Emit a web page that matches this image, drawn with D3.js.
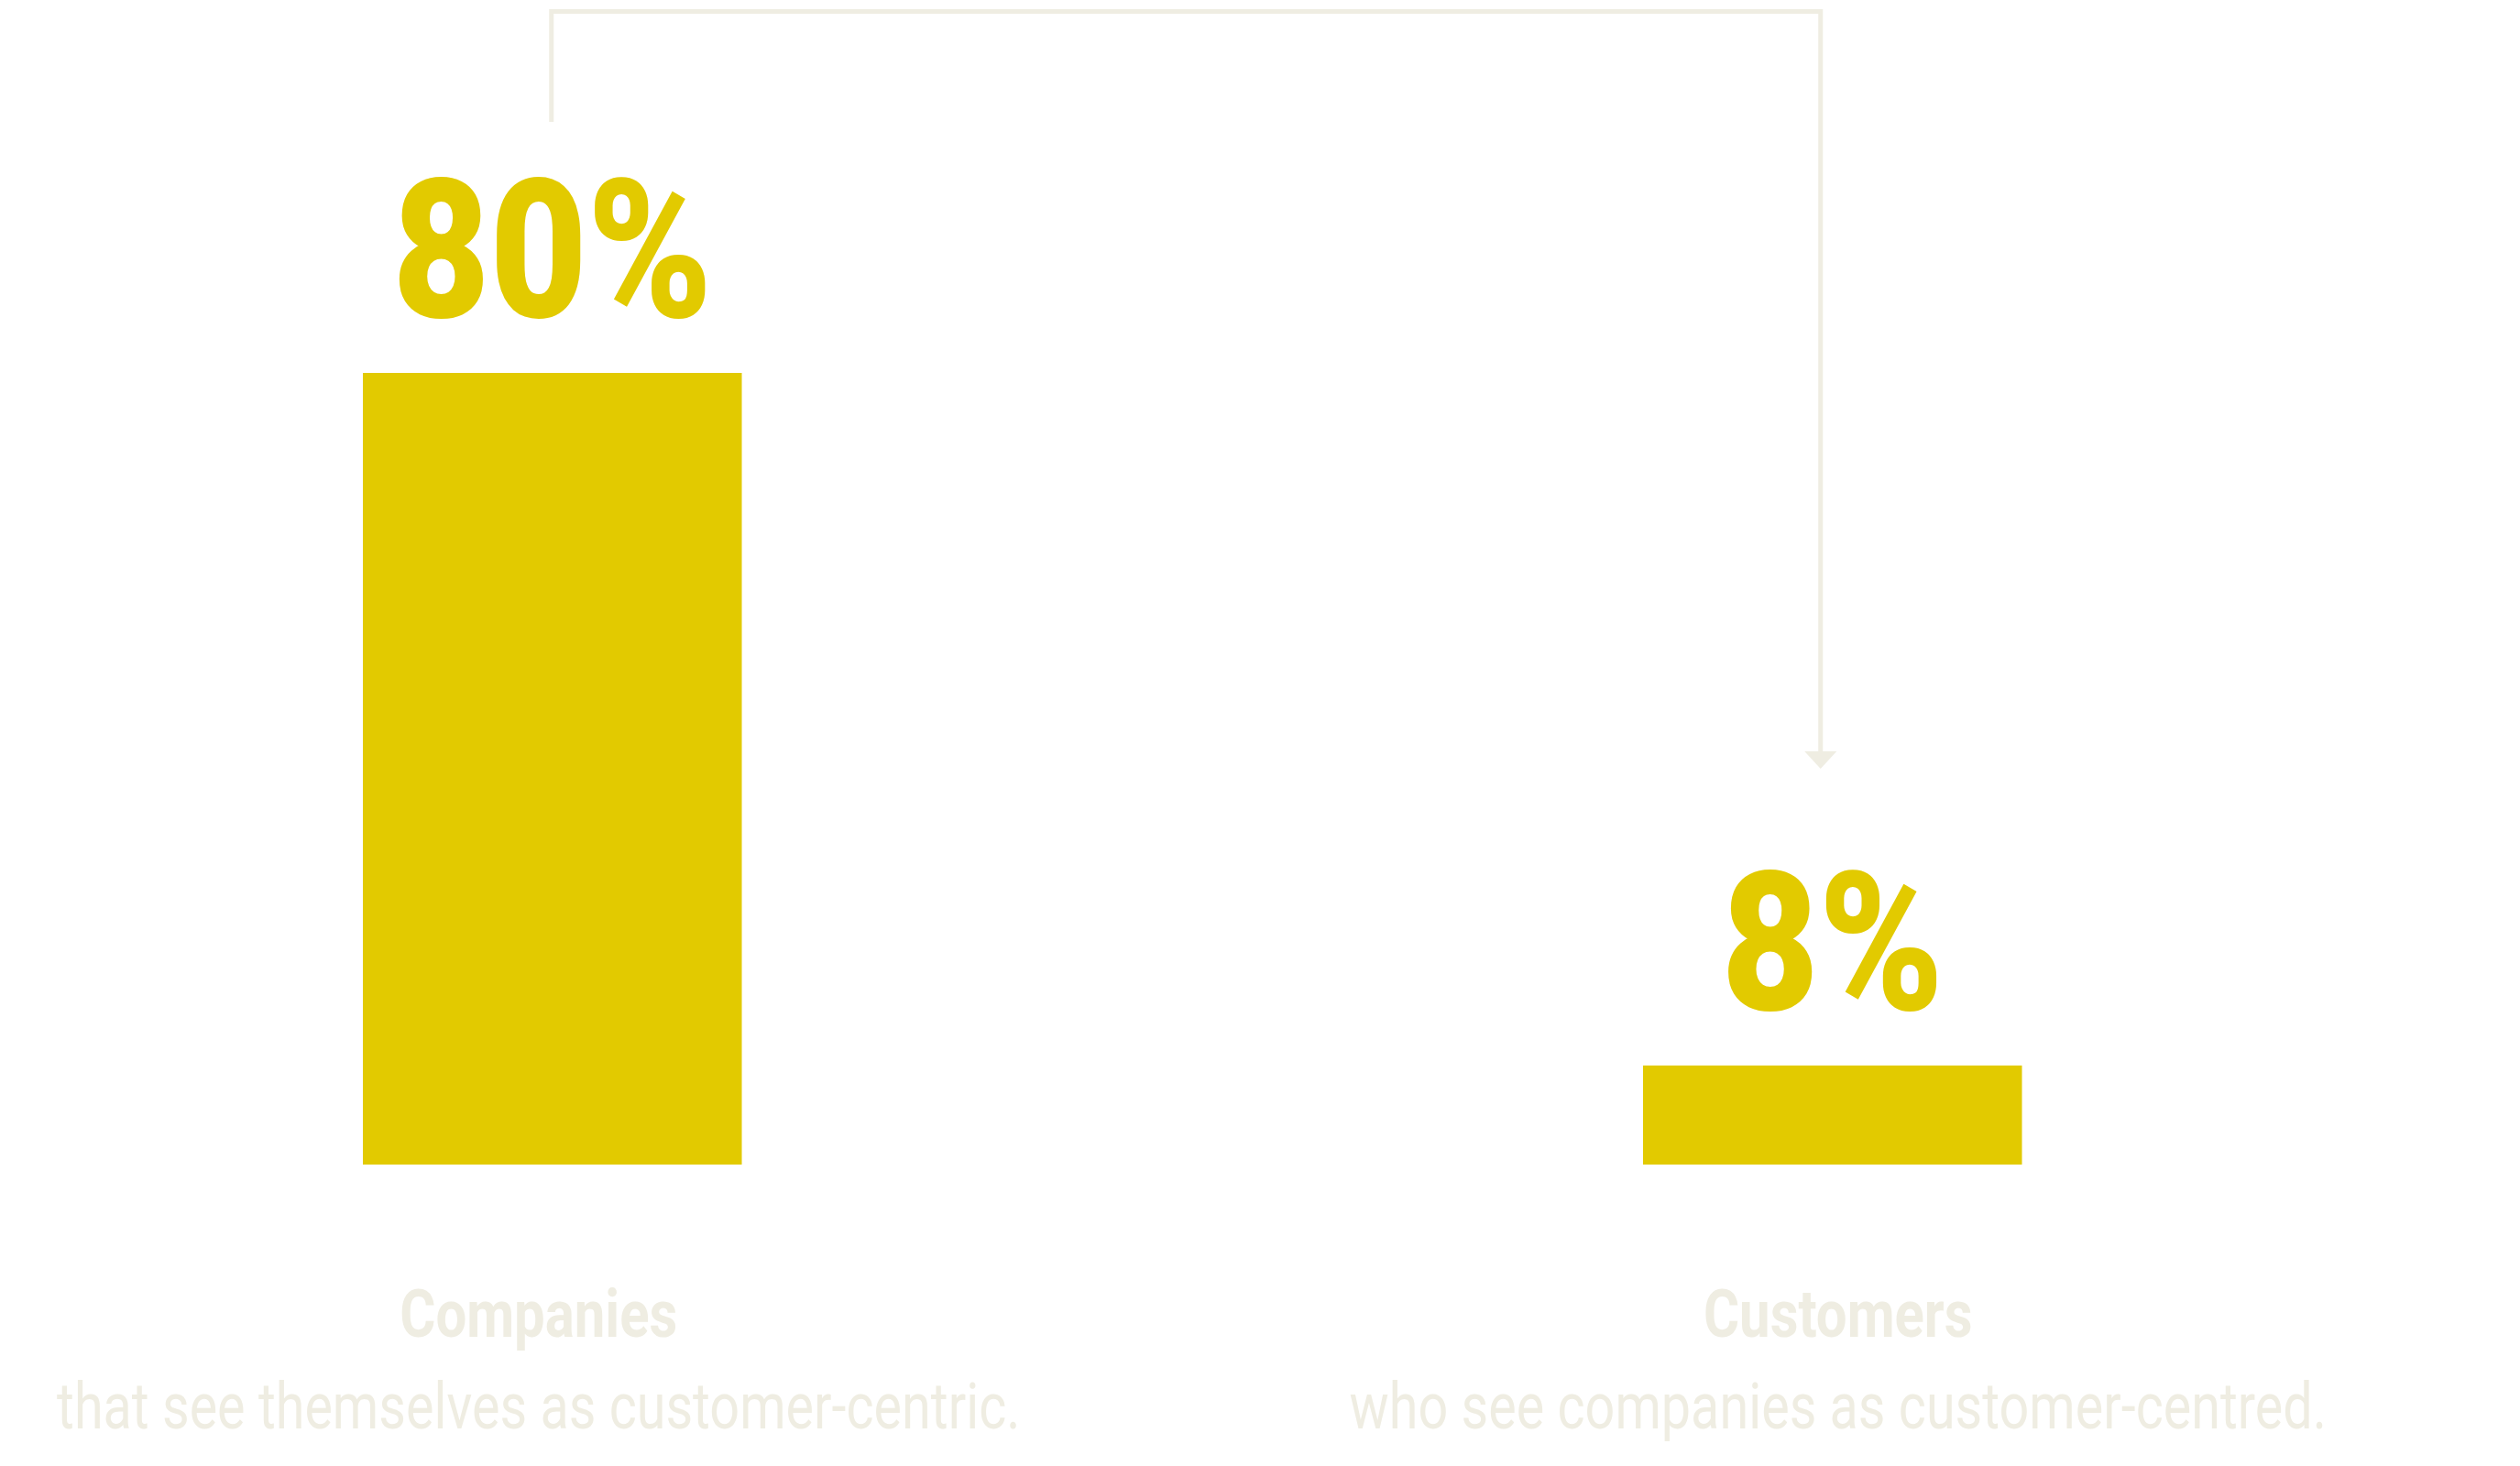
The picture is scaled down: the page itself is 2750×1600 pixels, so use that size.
<!DOCTYPE html>
<meta charset="utf-8">
<html lang="en">
<head>
    <title>Customer-centric gap</title>
    <script src="https://cdn.jsdelivr.net/npm/d3@7"></script>
    <style>
        body { margin: 0; background: #fff; }
        .pct { font-family: Roboto, "DejaVu Sans", sans-serif; font-weight: 900; font-size: 211px; fill: #e2ca00; }
        .head { font-family: Roboto, "DejaVu Sans", sans-serif; font-weight: 700; font-size: 73px; fill: #efede2; }
        .sub { font-family: Roboto, "DejaVu Sans", sans-serif; font-weight: 400; font-size: 71px; fill: #efede2; }
        .link { fill: none; stroke: #efede2; stroke-width: 5px; }
    </style>
</head>
<body>
<script>
    // values
    var groups = ["Companies", "Customers"];
    var shares = [80, 8];
    var subtitles = ["that see themselves as customer-centric.",
                     "who see companies as customer-centred."];

    var W = 2750, H = 1600;
    var barColor = "#e2ca00", paleColor = "#efede2";

    var svg = d3.select("body").append("svg").attr("width", W).attr("height", H);

    var x = d3.scaleBand().domain(groups).range([396, 2206.5]).paddingInner(0.704).paddingOuter(0);
    // bars are not drawn from a true zero in the original, baseline sits a bit below
    var y = d3.scaleLinear().domain([-2.3, 80]).range([1271, 407]);

    var cx = function (g) { return x(g) + x.bandwidth() / 2; };
    var capShift = [-15, 6];   // caption blocks sit slightly off the bar centres

    var data = groups.map(function (g, i) {
        return {key: g, value: shares[i], sub: subtitles[i], i: i};
    });

    // thin elbow connector with arrow from the first bar to the second
    var x1 = cx(groups[0]) - 1, x2 = cx(groups[1]) - 13;
    var topY = 12.5, startY = 133, tipY = 839, headH = 19, headW = 17.5;
    svg.append("path").attr("class", "link")
        .attr("d", d3.line()([[x1, startY], [x1, topY], [x2, topY], [x2, tipY - headH]]));
    svg.append("path")
        .attr("d", d3.line()([[x2 - headW, tipY - headH], [x2 + headW, tipY - headH], [x2, tipY]]) + "Z")
        .attr("fill", paleColor);

    svg.selectAll("rect.bar").data(data).enter().append("rect")
        .attr("class", "bar")
        .attr("x", d => x(d.key))
        .attr("width", x.bandwidth())
        .attr("y", d => y(d.value))
        .attr("height", d => y.range()[0] - y(d.value))
        .attr("fill", barColor);

    var fmt = d => d3.format("d")(d) + "%";

    svg.selectAll("text.pct").data(data).enter().append("text")
        .attr("class", "pct")
        .attr("x", d => cx(d.key))
        .attr("y", d => y(d.value) - 61)
        .attr("text-anchor", "middle")
        .text(d => fmt(d.value));

    svg.selectAll("text.head").data(data).enter().append("text")
        .attr("class", "head")
        .attr("x", d => cx(d.key) + capShift[d.i])
        .attr("y", 1459)
        .attr("text-anchor", "middle")
        .text(d => d.key);

    svg.selectAll("text.sub").data(data).enter().append("text")
        .attr("class", "sub")
        .attr("x", d => cx(d.key) + capShift[d.i])
        .attr("y", 1559)
        .attr("text-anchor", "middle")
        .text(d => d.sub);

    // the original face is a condensed one, squeeze the glyphs to match
    function condense(sel, k) {
        sel.each(function () {
            var n = this.getComputedTextLength();
            d3.select(this).attr("textLength", n * k).attr("lengthAdjust", "spacingAndGlyphs");
        });
    }
    condense(svg.selectAll("text.pct"), 0.87);
    condense(svg.selectAll("text.head"), 0.82);
    condense(svg.selectAll("text.sub"), 0.81);
</script>
</body>
</html>
